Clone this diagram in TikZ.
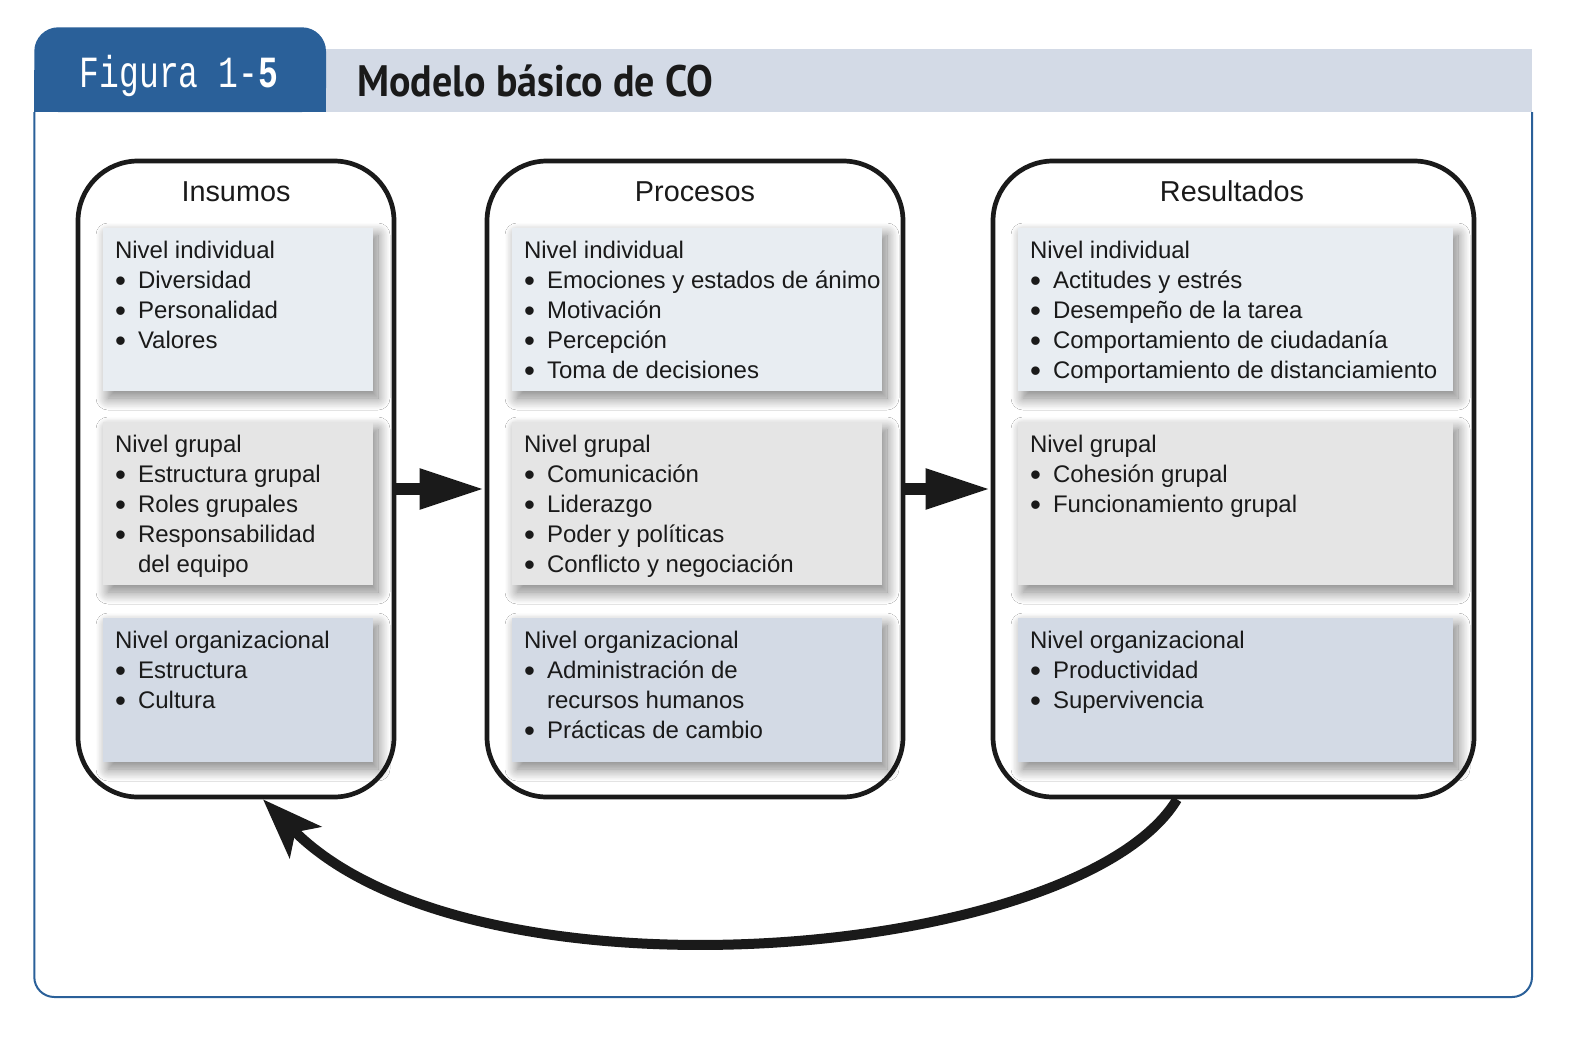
\documentclass[tikz,border=0pt]{standalone}
\usepackage{fontspec}
\setmainfont{Liberation Sans}
\newfontfamily\headfont{PT Sans}
\newfontfamily\figfont{Liberation Mono}
\usetikzlibrary{arrows.meta,shadows.blur}

\definecolor{tabblue}{HTML}{2A6099}
\definecolor{barblue}{HTML}{D3DAE6}
\definecolor{indiv}{HTML}{E8EDF2}
\definecolor{grup}{HTML}{E5E5E5}
\definecolor{orgz}{HTML}{D3DAE5}
\definecolor{ink}{HTML}{1A1A1A}

\newcommand{\itm}{\makebox[11.5pt][l]{\raisebox{-0.12em}{\scalebox{1.3}{\textbullet}}}}
\newcommand{\sigue}{\hspace*{11.5pt}}

\begin{document}
\begin{tikzpicture}[x=0.5pt, y=-0.5pt,
    col/.style = {draw=ink, line width=2.35pt, rounded corners=30pt, fill=white},
    box/.style = {draw=none, inner sep=0pt,
                  blur shadow={shadow xshift=2.5pt, shadow yshift=-3.5pt, shadow blur radius=6pt,
                               shadow blur steps=20, shadow opacity=50}},
    txt/.style = {anchor=north west, inner sep=0pt, align=left, text=ink,
                  font=\fontsize{12pt}{15pt}\selectfont},
    ttl/.style = {anchor=base, inner sep=0pt, text=ink, font=\fontsize{14.4pt}{17pt}\selectfont},
    flow/.style = {draw=ink, line width=6pt, -{Triangle[length=32.5pt, width=18.9pt]}},
    ciclo/.style = {draw=ink, line width=5pt, -{Stealth[length=30pt, width=22pt, inset=7pt]}}]

    \useasboundingbox (0,0) rectangle (1584,1056);
    \fill[white] (0,0) rectangle (1584,1056);

    % cabecera
    \draw[tabblue, line width=1pt, rounded corners=10pt] (34.3,112) -- (34.3,997) -- (1532,997) -- (1532,112);
    \fill[barblue] (326,48.5) rectangle (1532,112);
    \fill[tabblue, rounded corners=12pt] (34.3,27.3) rectangle (326,112);
    \fill[tabblue] (34.3,70) rectangle (326,112);
    \node[text=white, inner sep=0pt] (fig) at (179,76)
        {\figfont\fontsize{16.5pt}{18pt}\selectfont\scalebox{1}[1.35]{Figura 1-\textbf{5}}};
    \node[anchor=west, inner sep=0pt, text=ink] (tit) at (357,81)
        {\headfont\bfseries\fontsize{20pt}{22pt}\selectfont\scalebox{1}[1.1]{Modelo básico de CO}};

    % columnas
    \node[col, minimum width=158pt, minimum height=318pt] (ins) at (236,479) {};
    \node[col, minimum width=208pt, minimum height=318pt] (pro) at (695,479) {};
    \node[col, minimum width=240.5pt, minimum height=318pt] (res) at (1233.5,479) {};

    \node[ttl] (insT) at (236,201) {Insumos};
    \node[ttl] (proT) at (695,201) {Procesos};
    \node[ttl] (resT) at (1232,201) {Resultados};

    % Insumos
    \node[box, fill=indiv, minimum width=135pt, minimum height=81.5pt] (ins1) at (238,309.5) {};
    \node[box, fill=grup, minimum width=135pt, minimum height=81.5pt] (ins2) at (238,503.5) {};
    \node[box, fill=orgz, minimum width=135pt, minimum height=72pt] (ins3) at (238,690) {};
    \node[txt] (ins1t) at ([xshift=6pt, yshift=-6.75pt]ins1.north west)
        {Nivel individual\\ \itm Diversidad\\ \itm Personalidad\\ \itm Valores};
    \node[txt] (ins2t) at ([xshift=6pt, yshift=-6.75pt]ins2.north west)
        {Nivel grupal\\ \itm Estructura grupal\\ \itm Roles grupales\\ \itm Responsabilidad\\ \sigue del equipo};
    \node[txt] (ins3t) at ([xshift=6pt, yshift=-6.75pt]ins3.north west)
        {Nivel organizacional\\ \itm Estructura\\ \itm Cultura};

    % Procesos
    \node[box, fill=indiv, minimum width=185pt, minimum height=81.5pt] (pro1) at (697,309.5) {};
    \node[box, fill=grup, minimum width=185pt, minimum height=81.5pt] (pro2) at (697,503.5) {};
    \node[box, fill=orgz, minimum width=185pt, minimum height=72pt] (pro3) at (697,690) {};
    \node[txt] (pro1t) at ([xshift=6pt, yshift=-6.75pt]pro1.north west)
        {Nivel individual\\ \itm Emociones y estados de ánimo\\ \itm Motivación\\ \itm Percepción\\ \itm Toma de decisiones};
    \node[txt] (pro2t) at ([xshift=6pt, yshift=-6.75pt]pro2.north west)
        {Nivel grupal\\ \itm Comunicación\\ \itm Liderazgo\\ \itm Poder y políticas\\ \itm Conflicto y negociación};
    \node[txt] (pro3t) at ([xshift=6pt, yshift=-6.75pt]pro3.north west)
        {Nivel organizacional\\ \itm Administración de\\ \sigue recursos humanos\\ \itm Prácticas de cambio};

    % Resultados
    \node[box, fill=indiv, minimum width=217.5pt, minimum height=81.5pt] (res1) at (1235.5,309.5) {};
    \node[box, fill=grup, minimum width=217.5pt, minimum height=81.5pt] (res2) at (1235.5,503.5) {};
    \node[box, fill=orgz, minimum width=217.5pt, minimum height=72pt] (res3) at (1235.5,690) {};
    \node[txt] (res1t) at ([xshift=6pt, yshift=-6.75pt]res1.north west)
        {Nivel individual\\ \itm Actitudes y estrés\\ \itm Desempeño de la tarea\\ \itm Comportamiento de ciudadanía\\ \itm Comportamiento de distanciamiento};
    \node[txt] (res2t) at ([xshift=6pt, yshift=-6.75pt]res2.north west)
        {Nivel grupal\\ \itm Cohesión grupal\\ \itm Funcionamiento grupal};
    \node[txt] (res3t) at ([xshift=6pt, yshift=-6.75pt]res3.north west)
        {Nivel organizacional\\ \itm Productividad\\ \itm Supervivencia};

    % flechas
    \draw[flow] (ins.east |- 0,489) -- (pro.west |- 0,489);
    \draw[flow] (pro.east |- 0,489) -- (res.west |- 0,489);
    \draw[ciclo] ([xshift=-28.25pt]res.south) .. controls (1080,960) and (473,1012) .. ([xshift=13.5pt]ins.south);
\end{tikzpicture}
\end{document}
